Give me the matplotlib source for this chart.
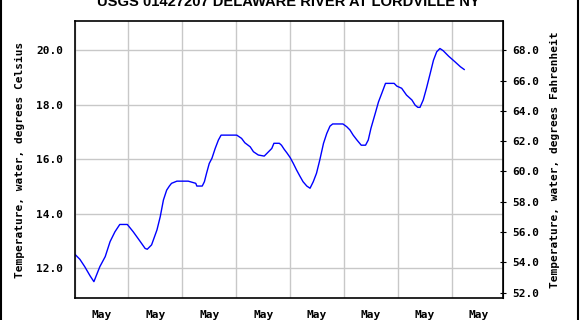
import numpy as np
import matplotlib.pyplot as plt
from matplotlib.lines import Line2D

# days since start of plot window
day = [0.01, 0.10, 0.19, 0.29, 0.36, 0.47, 0.57, 0.66, 0.75, 0.84, 0.98,
       1.09, 1.21, 1.31, 1.35, 1.43, 1.53, 1.59, 1.65, 1.71, 1.76, 1.80, 1.90,
       2.11, 2.25, 2.27, 2.37, 2.41, 2.45, 2.50, 2.55, 2.61, 2.67, 2.72,
       3.01, 3.10, 3.16, 3.26, 3.32, 3.41, 3.52, 3.66, 3.70, 3.80, 3.84, 3.89,
       3.94, 4.00, 4.06, 4.12, 4.18, 4.24, 4.31, 4.37, 4.43, 4.49, 4.55, 4.62,
       4.68, 4.74, 4.79, 4.98, 5.05, 5.11, 5.17, 5.24, 5.32, 5.40, 5.45, 5.50,
       5.58, 5.64, 5.70, 5.77, 5.93, 5.98, 6.07, 6.16, 6.26, 6.32, 6.37, 6.41,
       6.47, 6.53, 6.60, 6.66, 6.72, 6.78, 6.84, 6.94, 7.06, 7.16, 7.23]
temp_c = [12.51, 12.33, 12.06, 11.72, 11.51, 12.06, 12.43, 12.98, 13.34, 13.61, 13.61,
          13.34, 13.01, 12.73, 12.70, 12.86, 13.41, 13.89, 14.51, 14.87, 15.02, 15.12, 15.20,
          15.20, 15.12, 15.02, 15.02, 15.18, 15.49, 15.85, 16.04, 16.40, 16.71, 16.89,
          16.89, 16.77, 16.61, 16.46, 16.28, 16.16, 16.12, 16.40, 16.59, 16.59, 16.52, 16.37,
          16.24, 16.07, 15.85, 15.61, 15.39, 15.18, 15.02, 14.94, 15.18, 15.49, 15.97, 16.59,
          16.95, 17.22, 17.30, 17.30, 17.20, 17.08, 16.89, 16.71, 16.52, 16.52, 16.71, 17.14,
          17.69, 18.11, 18.42, 18.79, 18.79, 18.69, 18.61, 18.36, 18.18, 17.99, 17.91, 17.91,
          18.18, 18.61, 19.16, 19.64, 19.95, 20.07, 19.99, 19.79, 19.58, 19.40, 19.30]

xtick_labels = ['May'] * 8
c_ticks = [12, 14, 16, 18, 20]
f_ticks = [52, 54, 56, 58, 60, 62, 64, 66, 68]

mono = 'DejaVu Sans Mono'

fig = plt.figure(figsize=(5.8, 3.2), dpi=100)
ax = fig.add_axes([74.5 / 580, 22 / 320, (503 - 74.5) / 580, (298 - 21) / 320])

ax.plot(day, temp_c, color='#0000ff', lw=1.0)

ax.set_xlim(0, 7.95)
ax.set_ylim(10.91, 21.08)

ax.set_xticks(range(0, 8))
ax.set_xticklabels([])
ax.set_xticks(np.arange(len(xtick_labels)) + 0.5, minor=True)
ax.set_xticklabels(xtick_labels, minor=True, fontfamily=mono, fontweight='bold', fontsize=8)
ax.tick_params(axis='x', which='both', length=0, pad=9)
ax.grid(axis='x', which='major', color='#c8c8c8', lw=1)

ax.set_yticks(c_ticks)
ax.set_yticklabels([f'{t:.1f}' for t in c_ticks], fontfamily=mono, fontweight='bold', fontsize=8)
ax.tick_params(axis='y', length=0, pad=8)
ax.grid(axis='y', color='#c8c8c8', lw=1)
ax.set_axisbelow(True)
ax.set_ylabel('Temperature, water, degrees Celsius', fontfamily=mono, fontweight='bold',
              fontsize=8, labelpad=8)

for s in ax.spines.values():
    s.set_linewidth(1.2)

sec = ax.secondary_yaxis('right', functions=(lambda c: c * 9 / 5 + 32, lambda f: (f - 32) * 5 / 9))
sec.set_yticks(f_ticks)
sec.set_yticklabels([f'{t:.1f}' for t in f_ticks], fontfamily=mono, fontweight='bold', fontsize=8)
sec.tick_params(direction='inout', length=5, width=0.8, pad=4)
sec.set_ylabel('Temperature, water, degrees Fahrenheit', fontfamily=mono, fontweight='bold',
               fontsize=8, labelpad=8)

fig.text(288 / 580, 1 - 5.5 / 320, 'USGS 01427207 DELAWARE RIVER AT LORDVILLE NY',
         ha='center', va='baseline', fontfamily='Liberation Sans', fontweight='bold', fontsize=10.6)

# border lines on the left and right of the image
fig.add_artist(Line2D([0.5 / 580, 0.5 / 580], [0, 1], color='black', lw=1.5, transform=fig.transFigure))
fig.add_artist(Line2D([577.5 / 580, 577.5 / 580], [0, 1], color='black', lw=1.5, transform=fig.transFigure))

fig.savefig('out.png', dpi=100)
